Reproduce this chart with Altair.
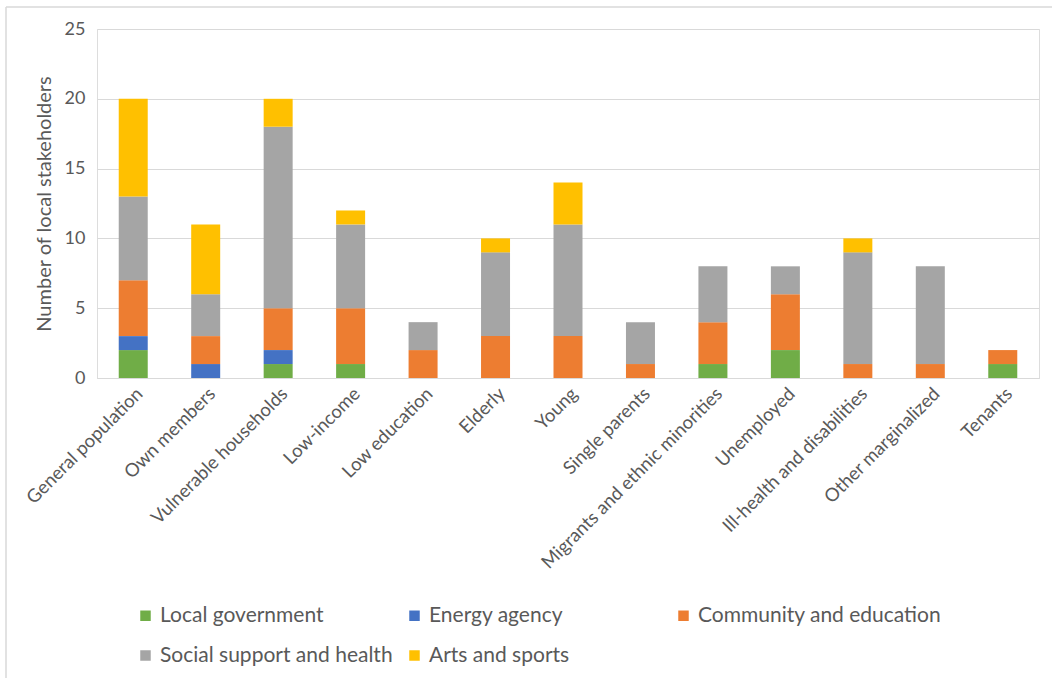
import altair as alt
import pandas as pd

categories = ["General population", "Own members", "Vulnerable households", "Low-income",
              "Low education", "Elderly", "Young", "Single parents",
              "Migrants and ethnic minorities", "Unemployed", "Ill-health and disabilities",
              "Other marginalized", "Tenants"]
series = ["Local government", "Energy agency", "Community and education",
          "Social support and health", "Arts and sports"]
local_government = [2, 0, 1, 1, 0, 0, 0, 0, 1, 2, 0, 0, 1]
energy_agency = [1, 1, 1, 0, 0, 0, 0, 0, 0, 0, 0, 0, 0]
community_education = [4, 2, 3, 4, 2, 3, 3, 1, 3, 4, 1, 1, 1]
social_support = [6, 3, 13, 6, 2, 6, 8, 3, 4, 2, 8, 7, 0]
arts_sports = [7, 5, 2, 1, 0, 1, 3, 0, 0, 0, 1, 0, 0]
colors = ["#70AD47", "#4472C4", "#ED7D31", "#A5A5A5", "#FFC000"]

values = [local_government, energy_agency, community_education, social_support, arts_sports]
rows = []
for si, (s, vals) in enumerate(zip(series, values)):
    for c, v in zip(categories, vals):
        if v > 0:
            rows.append({"category": c, "series": s, "value": v, "idx": si})
df = pd.DataFrame(rows)

FONT = "Lato"
TXT = "#595959"

bars = alt.Chart(df).mark_bar(size=29).encode(
    x=alt.X("category:N", sort=categories, title=None,
            scale=alt.Scale(paddingInner=0.6, paddingOuter=0.3),
            axis=alt.Axis(labelAngle=-45, labelFontSize=18.5, labelColor=TXT, labelFont=FONT,
                          ticks=False, domainColor="#D9D9D9", labelPadding=6,
                          labelLimit=400)),
    y=alt.Y("value:Q", title="Number of local stakeholders",
            scale=alt.Scale(domain=[0, 25]),
            axis=alt.Axis(values=[0, 5, 10, 15, 20, 25], labelFontSize=18, labelColor=TXT,
                          labelFont=FONT, titleFont=FONT, titleFontSize=20, titleColor=TXT,
                          titleFontWeight="normal", ticks=False, domain=False,
                          gridColor="#D9D9D9", labelPadding=12, titlePadding=10)),
    color=alt.Color("series:N", sort=series,
                    scale=alt.Scale(domain=series, range=colors),
                    legend=alt.Legend(title=None, orient="none", legendX=38, legendY=576,
                                      direction="horizontal",
                                      columns=3, gridAlign="all", symbolType="square",
                                      symbolSize=110, symbolStrokeWidth=0,
                                      labelFontSize=21, labelColor=TXT, labelFont=FONT,
                                      columnPadding=0, rowPadding=18, labelLimit=400)),
    order=alt.Order("idx:Q", sort="ascending"),
)

frame_data = pd.DataFrame({"k": [0]})
top_border = alt.Chart(frame_data).mark_rule(color="#D9D9D9", strokeWidth=1.5).encode(
    x=alt.value(-91), x2=alt.value(960), y=alt.value(-22))
left_border = alt.Chart(frame_data).mark_rule(color="#D9D9D9", strokeWidth=1.5).encode(
    x=alt.value(-91), y=alt.value(-22), y2=alt.value(660))

chart = alt.layer(bars, top_border, left_border).properties(
    width=942, height=349,
    autosize=alt.AutoSizeParams(type="none"),
    padding={"left": 97, "top": 29, "right": 13, "bottom": 300},
).configure_view(stroke=None).configure(font=FONT)

chart.save("out.html", embed_options={"renderer": "svg", "actions": False})
